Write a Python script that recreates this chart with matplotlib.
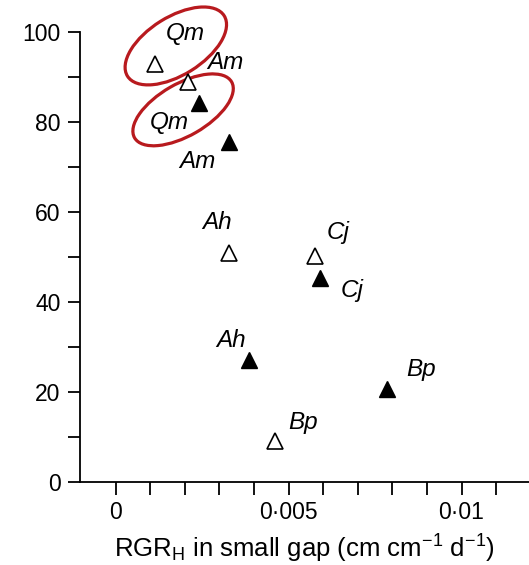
import matplotlib
matplotlib.use('Agg')
import matplotlib.pyplot as plt
import matplotlib.transforms as mtransforms
from matplotlib.patches import Ellipse
from matplotlib.ticker import MultipleLocator, FixedLocator

plt.rcParams['font.family'] = ['Liberation Sans', 'DejaVu Sans']
plt.rcParams['mathtext.fontset'] = 'custom'
plt.rcParams['mathtext.rm'] = 'Liberation Sans'
plt.rcParams['mathtext.it'] = 'Liberation Sans:italic'

# 数据
species = ['Qm', 'Am', 'Ah', 'Cj', 'Bp']
open_x = [0.00114, 0.00209, 0.00328, 0.00576, 0.00461]
open_y = [92.9, 88.9, 50.9, 50.2, 9.1]
filled_x = [0.00241, 0.00328, 0.00385, 0.00590, 0.00784]
filled_y = [84.2, 75.6, 27.1, 45.3, 20.7]
x_ticks = [0, 0.005, 0.01]
x_tick_labels = ['0', '0·005', '0·01']
x_minor = [0.001 * i for i in range(12)]
y_ticks = [0, 20, 40, 60, 80, 100]

# 标签偏移 (points)
open_offsets = [(22, 22), (27, 14), (-9, 22), (17, 17), (20, 13)]
filled_offsets = [(-21, -14), (-23, -14), (-13, 14), (23, -9), (25, 14)]

fig = plt.figure(figsize=(5.29, 5.65), dpi=100)
ax = fig.add_axes([80 / 529, 83 / 565, 449 / 529, 450 / 565])

ax.plot(open_x, open_y, '^', ms=12, mfc='white', mec='black', mew=1.2, clip_on=False)
ax.plot(filled_x, filled_y, '^', ms=12, mfc='black', mec='black', clip_on=False)

for name, x, y, off in zip(species, open_x, open_y, open_offsets):
    ax.annotate(name, (x, y), xytext=off, textcoords='offset points',
                ha='center', va='center', fontsize=17.5, style='italic')
for name, x, y, off in zip(species, filled_x, filled_y, filled_offsets):
    ax.annotate(name, (x, y), xytext=off, textcoords='offset points',
                ha='center', va='center', fontsize=17.5, style='italic')

# 红色椭圆 (inches, 围绕Qm)
for cx, cy, w, h, ang in [(0.00174, 96.9, 1.14, 0.58, 32), (0.00195, 82.7, 1.12, 0.52, 30)]:
    tr = fig.dpi_scale_trans + mtransforms.ScaledTranslation(cx, cy, ax.transData)
    ax.add_patch(Ellipse((0, 0), w, h, angle=ang, transform=tr, fill=False,
                         ec='#B81A1E', lw=2.3, clip_on=False))

ax.set_xlim(-0.00103, 0.01195)
ax.set_ylim(0, 100)
ax.spines['top'].set_visible(False)
ax.spines['right'].set_visible(False)
ax.spines['left'].set_linewidth(1.3)
ax.spines['bottom'].set_linewidth(1.3)

ax.xaxis.set_major_locator(FixedLocator(x_ticks))
ax.set_xticklabels(x_tick_labels)
ax.xaxis.set_minor_locator(FixedLocator(x_minor))
ax.yaxis.set_major_locator(FixedLocator(y_ticks))
ax.yaxis.set_minor_locator(MultipleLocator(10))
ax.tick_params(which='both', length=9, width=1.3, direction='out')
ax.tick_params(axis='both', labelsize=16.5, pad=5)

ax.set_xlabel('RGR$_\\mathrm{H}$ in small gap (cm cm$^{\\mathrm{-1}}$ d$^{\\mathrm{-1}}$)',
              fontsize=18.5, labelpad=6)

fig.savefig('out.png', dpi=100)
